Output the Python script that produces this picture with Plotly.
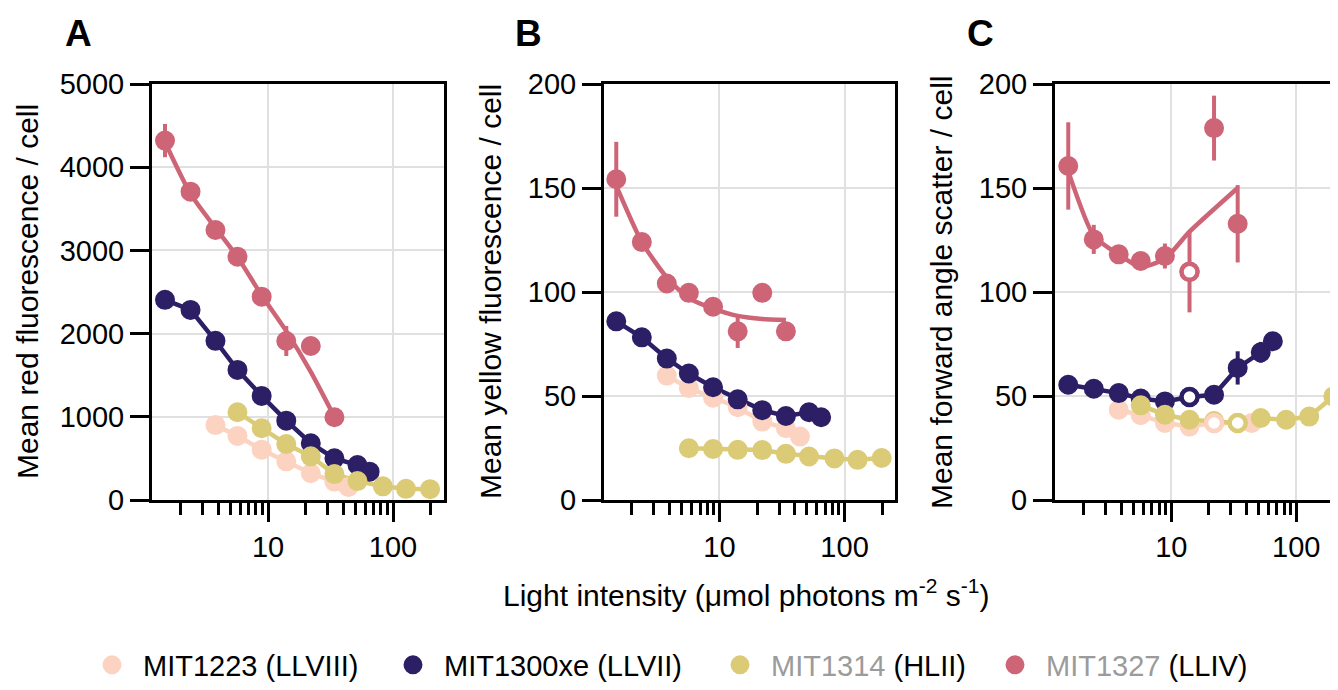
import plotly.graph_objects as go

# ---------------- data ----------------
light_1223 = [3.8, 5.7, 8.9, 14, 22, 34, 44]
light_1300 = [1.5, 2.4, 3.8, 5.7, 8.9, 14, 22, 34, 52, 65]
light_1314 = [5.7, 8.9, 14, 22, 34, 52, 83, 127, 198]
light_1327 = [1.5, 2.4, 3.8, 5.7, 8.9, 14, 22, 34]

# Panel A: mean red fluorescence / cell
red_1223 = [900, 770, 605, 465, 321, 221, 156]
red_1300 = [2406, 2285, 1913, 1564, 1251, 954, 682, 501, 421, 341]
red_1314 = [1055, 862, 672, 525, 311, 227, 164, 134, 130]
red_1327 = [4320, 3706, 3245, 2925, 2444, 1911, 1851, 994]
red_1327_err = [200, 110, 40, 40, 40, 180, 40, 40]
red_1327_fit = [4300, 3680, 3270, 2920, 2460, 2030, 1540, 1000]

# Panel B: mean yellow fluorescence / cell
yel_1223 = [59.8, 53.8, 49.2, 44.6, 37.7, 34.5, 30.5]
yel_1300 = [85.9, 78.2, 68.0, 60.8, 54.2, 48.4, 43.2, 40.4, 42.2, 39.8]
yel_1314 = [24.9, 24.5, 24.1, 24.0, 22.2, 20.9, 20.0, 19.3, 20.2]
yel_1327 = [154.2, 124.0, 104.1, 99.6, 92.9, 81.1, 99.6, 81.1]
yel_1327_err = [18, 2, 2, 2, 2, 8, 2, 2]
yel_1327_fit = [151, 124, 107, 97, 92, 88.5, 87, 86.5]

# Panel C: mean forward angle scatter / cell (open = 1 -> hollow marker)
fsc_1223 = [43.4, 40.8, 37.0, 35.3, 37.0, 37.0, 37.0]
fsc_1223_open = [0, 0, 0, 0, 1, 0, 0]
fsc_1300 = [55.4, 53.5, 51.4, 48.8, 47.4, 49.5, 50.6, 63.5, 71.0, 76.3]
fsc_1300_err = [1, 1, 1, 1, 1, 1, 1, 8, 5, 3]
fsc_1300_open = [0, 0, 0, 0, 0, 1, 0, 0, 0, 0]
fsc_1314 = [45.5, 41.0, 38.6, 38.0, 37.0, 39.4, 38.6, 40.1, 49.8]
fsc_1314_open = [0, 0, 0, 0, 1, 0, 0, 0, 0]
fsc_1327 = [160.6, 125.3, 118.1, 114.9, 117.3, 109.7, 178.8, 132.8]
fsc_1327_err = [21, 7, 2, 2, 6, 19.5, 15.6, 18.6]
fsc_1327_open = [0, 0, 0, 0, 0, 1, 0, 0]
fsc_1327_fit = [158, 127, 118, 112, 116, 129, None, 150]

strains = ["MIT1223", "MIT1300xe", "MIT1314", "MIT1327"]
legend_names = [
    "MIT1223 (LLVIII)",
    "MIT1300xe (LLVII)",
    "<span style='color:#9b9b9b'>MIT1314</span> (HLII)",
    "<span style='color:#9b9b9b'>MIT1327</span> (LLIV)",
]
colors = ["#FCD2C0", "#2C1F66", "#DBCB76", "#CE6577"]
lights = [light_1223, light_1300, light_1314, light_1327]

y_titles = ["Mean red fluorescence / cell",
            "Mean yellow fluorescence / cell",
            "Mean forward angle scatter / cell"]
panel_letters = ["A", "B", "C"]

# ---------------- layout helpers ----------------
W, H = 1338, 690
PAGE_OFF = 8  # default page body margin shifts the figure by 8 px
FONT = "Liberation Sans, Arial, Helvetica, sans-serif"


def px(x):
    return (x - PAGE_OFF) / W


def py(y):
    return 1 - (y - PAGE_OFF) / H


panels = [
    dict(vals=[red_1223, red_1300, red_1314, red_1327],
         err=[None, None, None, red_1327_err],
         fit=red_1327_fit, opens=[None, None, None, None],
         dom=(152, 444), xr=[0.072, 2.408], yr=[0, 5000], dt=1000, mirror=True,
         ytx=28, letx=78),
    dict(vals=[yel_1223, yel_1300, yel_1314, yel_1327],
         err=[None, None, None, yel_1327_err],
         fit=yel_1327_fit, opens=[None, None, None, None],
         dom=(604, 895), xr=[0.078, 2.403], yr=[0, 200], dt=50, mirror=True,
         ytx=491, letx=528),
    dict(vals=[fsc_1223, fsc_1300, fsc_1314, fsc_1327],
         err=[None, fsc_1300_err, None, fsc_1327_err],
         fit=fsc_1327_fit,
         opens=[fsc_1223_open, fsc_1300_open, fsc_1314_open, fsc_1327_open],
         dom=(1055, W + PAGE_OFF), xr=[0.07, 2.398], yr=[0, 200], dt=50,
         mirror=False, ytx=942, letx=980),
]

# legend placement (circle centres in px)
legend_ids = ["legend", "legend2", "legend3", "legend4"]
legend_circle_x = [112, 413, 740, 1015]
ITEMW = 52

fig = go.Figure()
annotations = []
layout_axes = {}

for i, p in enumerate(panels):
    n = "" if i == 0 else str(i + 1)
    xa, ya = "x" + n, "y" + n
    # lines first
    for s in range(4):
        if s == 3:
            fig.add_trace(go.Scatter(
                x=lights[s], y=p["fit"], mode="lines", xaxis=xa, yaxis=ya,
                line=dict(color=colors[s], width=4.5, shape="spline", smoothing=0.6),
                connectgaps=True, showlegend=False, hoverinfo="skip"))
        else:
            fig.add_trace(go.Scatter(
                x=lights[s], y=p["vals"][s], mode="lines", xaxis=xa, yaxis=ya,
                line=dict(color=colors[s], width=4.5),
                showlegend=False, hoverinfo="skip"))
    # filled markers
    for s in range(4):
        err = p["err"][s]
        fig.add_trace(go.Scatter(
            x=lights[s], y=p["vals"][s], mode="markers", xaxis=xa, yaxis=ya,
            name=legend_names[s], legendgroup=strains[s], showlegend=(i == 0),
            legend=legend_ids[s],
            marker=dict(color=colors[s], size=17, line=dict(width=3, color=colors[s])),
            error_y=(dict(type="data", array=err, visible=True, color=colors[s],
                          thickness=4, width=0) if err is not None else None)))
    # hollow (open) markers on top
    for s in range(4):
        op = p["opens"][s]
        if op is None:
            continue
        xs = [x for x, o in zip(lights[s], op) if o]
        ys = [v for v, o in zip(p["vals"][s], op) if o]
        if not xs:
            continue
        fig.add_trace(go.Scatter(
            x=xs, y=ys, mode="markers", xaxis=xa, yaxis=ya, showlegend=False,
            legendgroup=strains[s],
            marker=dict(color="white", size=16, line=dict(width=4.5, color=colors[s]))))

    d0, d1 = p["dom"]
    layout_axes["xaxis" + n] = dict(
        type="log", domain=[px(d0), min(1.0, px(d1))], range=p["xr"], anchor=ya,
        automargin=False,
        tickvals=[10, 100], ticktext=["10", "100"],
        ticks="outside", ticklen=19, tickwidth=3, tickcolor="black",
        showline=True, linewidth=3, linecolor="black", mirror=True,
        showgrid=True, gridcolor="#e0e0e0", gridwidth=2, zeroline=False,
        minor=dict(tickvals=[2, 3, 4, 5, 6, 7, 8, 9, 20, 30, 40, 50, 60, 70, 80, 90, 200],
                   ticks="outside", ticklen=12, tickwidth=3, tickcolor="black",
                   showgrid=False),
        tickfont=dict(size=29, color="black", family=FONT))
    layout_axes["yaxis" + n] = dict(
        domain=[py(500), py(84)], range=p["yr"], anchor=xa, dtick=p["dt"], tick0=0,
        automargin=False,
        ticks="outside", ticklen=19, tickwidth=3, tickcolor="black",
        showline=True, linewidth=3, linecolor="black", mirror=p["mirror"],
        showgrid=True, gridcolor="#e0e0e0", gridwidth=2, zeroline=False,
        tickfont=dict(size=29, color="black", family=FONT))

    annotations.append(dict(
        text=y_titles[i], x=px(p["ytx"]), y=py(292), xref="paper", yref="paper",
        textangle=-90, showarrow=False, xanchor="center", yanchor="middle",
        borderpad=0, font=dict(size=30, color="black", family=FONT)))
    annotations.append(dict(
        text="<b>" + panel_letters[i] + "</b>", x=px(p["letx"]), y=py(34),
        xref="paper", yref="paper", showarrow=False, xanchor="center",
        yanchor="middle", font=dict(size=37, color="black", family=FONT)))

annotations.append(dict(
    text="Light intensity (μmol photons m<sup>-2</sup> s<sup>-1</sup>)",
    x=px(746), y=py(593), xref="paper", yref="paper", showarrow=False,
    xanchor="center", yanchor="middle",
    font=dict(size=30, color="black", family=FONT)))

legends = {}
for k, lid in enumerate(legend_ids):
    legends[lid] = dict(
        orientation="h", x=px(legend_circle_x[k] - 5 - ITEMW / 2), y=py(665),
        xanchor="left", yanchor="middle", itemwidth=ITEMW,
        font=dict(size=29, color="black", family=FONT),
        itemsizing="trace", bgcolor="rgba(0,0,0,0)", borderwidth=0)

fig.update_layout(
    width=W, height=H,
    margin=dict(l=0, r=0, t=0, b=0, autoexpand=False),
    paper_bgcolor="white", plot_bgcolor="white",
    font=dict(family=FONT, size=29, color="black"),
    annotations=annotations,
    showlegend=True,
    **legends,
    **layout_axes,
)

fig.write_html("out.html")
